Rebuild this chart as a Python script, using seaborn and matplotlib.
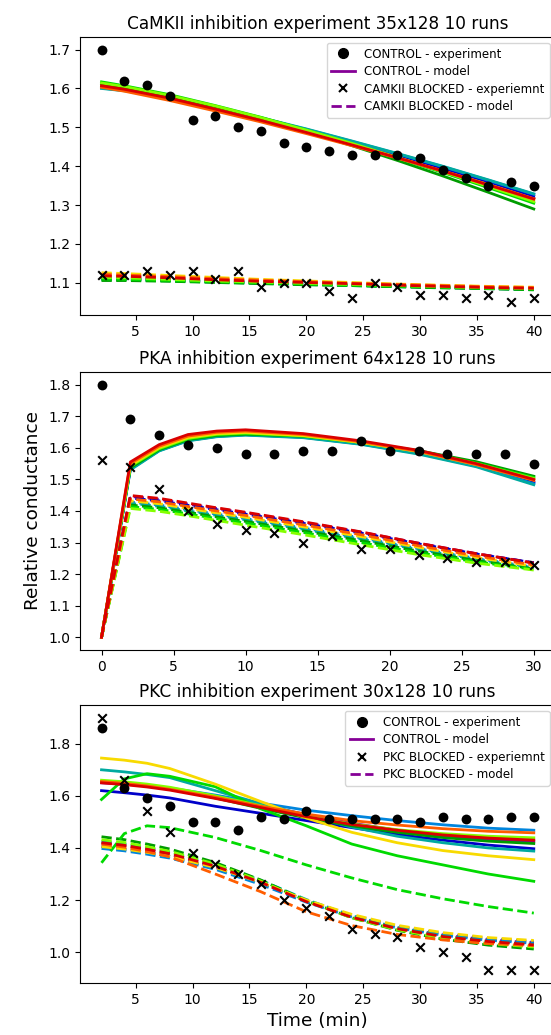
import pandas as pd
import numpy as np
import matplotlib
matplotlib.use("Agg")
import matplotlib.pyplot as plt
from matplotlib.lines import Line2D
import seaborn as sns

plt.rcParams['xtick.labelsize'] = 10
plt.rcParams['ytick.labelsize'] = 10
plt.rcParams['axes.titlesize'] = 12.2
plt.rcParams['axes.labelsize'] = 13.3

RUN_COLORS = sns.color_palette("nipy_spectral", 10)  # purple ... red

# ---------------- CaMKII panel ----------------
camkii_exp_t = [2, 4, 6, 8, 10, 12, 14, 16, 18, 20, 22, 24, 26, 28, 30, 32, 34, 36, 38, 40]
camkii_ctrl_exp = [1.70, 1.62, 1.61, 1.58, 1.52, 1.53, 1.50, 1.49, 1.46, 1.45,
                   1.44, 1.43, 1.43, 1.43, 1.42, 1.39, 1.37, 1.35, 1.36, 1.35]
camkii_block_exp = [1.12, 1.12, 1.13, 1.12, 1.13, 1.11, 1.13, 1.09, 1.10, 1.10,
                    1.08, 1.06, 1.10, 1.09, 1.07, 1.07, 1.06, 1.07, 1.05, 1.06]
camkii_model_t = [2, 4, 8, 12, 16, 20, 24, 28, 32, 36, 40]
camkii_ctrl_model = [
    [1.606, 1.598, 1.575, 1.549, 1.520, 1.490, 1.458, 1.425, 1.391, 1.355, 1.318],
    [1.604, 1.597, 1.576, 1.551, 1.523, 1.493, 1.461, 1.428, 1.395, 1.360, 1.324],
    [1.601, 1.595, 1.575, 1.551, 1.524, 1.495, 1.464, 1.432, 1.399, 1.364, 1.328],
    [1.600, 1.594, 1.575, 1.552, 1.525, 1.496, 1.465, 1.433, 1.400, 1.365, 1.329],
    [1.612, 1.603, 1.580, 1.553, 1.522, 1.489, 1.453, 1.415, 1.375, 1.333, 1.290],
    [1.617, 1.607, 1.584, 1.556, 1.526, 1.493, 1.458, 1.421, 1.384, 1.345, 1.305],
    [1.614, 1.605, 1.582, 1.555, 1.525, 1.493, 1.459, 1.423, 1.386, 1.348, 1.309],
    [1.605, 1.596, 1.573, 1.546, 1.517, 1.487, 1.455, 1.422, 1.388, 1.353, 1.316],
    [1.603, 1.593, 1.569, 1.542, 1.514, 1.484, 1.453, 1.421, 1.387, 1.352, 1.315],
    [1.607, 1.598, 1.575, 1.547, 1.518, 1.487, 1.455, 1.422, 1.388, 1.352, 1.316],
]
camkii_block_model = [
    [1.116, 1.115, 1.111, 1.107, 1.103, 1.099, 1.096, 1.093, 1.090, 1.087, 1.085],
    [1.112, 1.111, 1.108, 1.104, 1.101, 1.098, 1.095, 1.092, 1.089, 1.087, 1.084],
    [1.110, 1.109, 1.106, 1.103, 1.100, 1.097, 1.094, 1.091, 1.088, 1.086, 1.083],
    [1.108, 1.108, 1.105, 1.102, 1.099, 1.096, 1.093, 1.090, 1.088, 1.085, 1.083],
    [1.106, 1.106, 1.104, 1.101, 1.098, 1.095, 1.093, 1.090, 1.087, 1.085, 1.082],
    [1.110, 1.109, 1.106, 1.103, 1.100, 1.097, 1.094, 1.091, 1.089, 1.086, 1.084],
    [1.114, 1.113, 1.109, 1.105, 1.102, 1.099, 1.096, 1.093, 1.090, 1.087, 1.085],
    [1.126, 1.124, 1.119, 1.114, 1.109, 1.105, 1.101, 1.097, 1.094, 1.091, 1.089],
    [1.122, 1.120, 1.116, 1.111, 1.107, 1.103, 1.099, 1.096, 1.093, 1.090, 1.088],
    [1.118, 1.117, 1.113, 1.108, 1.104, 1.101, 1.098, 1.094, 1.091, 1.088, 1.086],
]

# ---------------- PKA panel ----------------
pka_exp_t = [0, 2, 4, 6, 8, 10, 12, 14, 16, 18, 20, 22, 24, 26, 28, 30]
pka_ctrl_exp = [1.80, 1.69, 1.64, 1.61, 1.60, 1.58, 1.58, 1.59,
                1.59, 1.62, 1.59, 1.59, 1.58, 1.58, 1.58, 1.55]
pka_block_exp = [1.56, 1.54, 1.47, 1.40, 1.36, 1.34, 1.33, 1.30,
                 1.32, 1.28, 1.28, 1.26, 1.25, 1.24, 1.24, 1.23]
pka_model_t = [0, 2, 4, 6, 8, 10, 14, 18, 22, 26, 30]
pka_ctrl_model = [
    [1.0, 1.537, 1.595, 1.627, 1.640, 1.644, 1.636, 1.615, 1.585, 1.546, 1.492],
    [1.0, 1.534, 1.592, 1.624, 1.637, 1.642, 1.634, 1.613, 1.583, 1.544, 1.489],
    [1.0, 1.532, 1.591, 1.623, 1.636, 1.641, 1.633, 1.612, 1.582, 1.542, 1.486],
    [1.0, 1.530, 1.590, 1.622, 1.635, 1.640, 1.632, 1.611, 1.580, 1.540, 1.483],
    [1.0, 1.536, 1.594, 1.626, 1.639, 1.643, 1.637, 1.618, 1.591, 1.556, 1.510],
    [1.0, 1.540, 1.596, 1.628, 1.641, 1.645, 1.637, 1.617, 1.590, 1.552, 1.506],
    [1.0, 1.542, 1.598, 1.630, 1.643, 1.647, 1.638, 1.617, 1.589, 1.550, 1.503],
    [1.0, 1.545, 1.601, 1.633, 1.645, 1.649, 1.639, 1.617, 1.588, 1.547, 1.498],
    [1.0, 1.550, 1.605, 1.637, 1.649, 1.653, 1.642, 1.619, 1.589, 1.547, 1.497],
    [1.0, 1.555, 1.610, 1.642, 1.653, 1.657, 1.645, 1.622, 1.592, 1.550, 1.500],
]
pka_block_model = [
    [1.0, 1.446, 1.437, 1.422, 1.408, 1.394, 1.364, 1.333, 1.298, 1.265, 1.236],
    [1.0, 1.441, 1.432, 1.418, 1.404, 1.390, 1.361, 1.330, 1.296, 1.264, 1.236],
    [1.0, 1.428, 1.419, 1.404, 1.390, 1.376, 1.346, 1.315, 1.281, 1.250, 1.222],
    [1.0, 1.424, 1.415, 1.400, 1.386, 1.372, 1.342, 1.311, 1.278, 1.247, 1.220],
    [1.0, 1.419, 1.410, 1.396, 1.381, 1.367, 1.337, 1.306, 1.273, 1.243, 1.217],
    [1.0, 1.414, 1.405, 1.391, 1.376, 1.362, 1.332, 1.300, 1.268, 1.239, 1.215],
    [1.0, 1.408, 1.399, 1.385, 1.370, 1.355, 1.325, 1.293, 1.262, 1.235, 1.213],
    [1.0, 1.432, 1.423, 1.408, 1.394, 1.380, 1.350, 1.319, 1.285, 1.253, 1.225],
    [1.0, 1.438, 1.429, 1.414, 1.400, 1.386, 1.356, 1.325, 1.290, 1.258, 1.229],
    [1.0, 1.449, 1.440, 1.425, 1.410, 1.396, 1.366, 1.334, 1.298, 1.265, 1.235],
]

# ---------------- PKC panel ----------------
pkc_exp_t = [2, 4, 6, 8, 10, 12, 14, 16, 18, 20, 22, 24, 26, 28, 30, 32, 34, 36, 38, 40]
pkc_ctrl_exp = [1.86, 1.63, 1.59, 1.56, 1.50, 1.50, 1.47, 1.52, 1.51, 1.54,
                1.51, 1.51, 1.51, 1.51, 1.50, 1.52, 1.51, 1.51, 1.52, 1.52]
pkc_block_exp = [1.90, 1.66, 1.54, 1.46, 1.38, 1.34, 1.30, 1.26, 1.20, 1.17,
                 1.14, 1.09, 1.07, 1.06, 1.02, 1.00, 0.98, 0.93, 0.93, 0.93]
pkc_model_t = [2, 4, 6, 8, 12, 16, 20, 24, 28, 32, 36, 40]
pkc_ctrl_model = [
    [1.650, 1.645, 1.638, 1.628, 1.600, 1.565, 1.528, 1.495, 1.468, 1.447, 1.433, 1.425],
    [1.620, 1.612, 1.603, 1.592, 1.560, 1.533, 1.505, 1.478, 1.452, 1.430, 1.411, 1.397],
    [1.655, 1.648, 1.640, 1.630, 1.603, 1.572, 1.545, 1.524, 1.505, 1.489, 1.476, 1.468],
    [1.700, 1.692, 1.682, 1.670, 1.620, 1.570, 1.525, 1.480, 1.445, 1.420, 1.400, 1.388],
    [1.655, 1.648, 1.638, 1.627, 1.592, 1.552, 1.515, 1.485, 1.460, 1.440, 1.426, 1.417],
    [1.586, 1.665, 1.685, 1.675, 1.635, 1.550, 1.485, 1.415, 1.370, 1.335, 1.300, 1.272],
    [1.660, 1.654, 1.645, 1.633, 1.600, 1.562, 1.522, 1.492, 1.470, 1.455, 1.445, 1.439],
    [1.745, 1.737, 1.725, 1.705, 1.645, 1.578, 1.515, 1.460, 1.420, 1.390, 1.370, 1.355],
    [1.655, 1.648, 1.638, 1.625, 1.595, 1.560, 1.530, 1.505, 1.488, 1.474, 1.464, 1.458],
    [1.650, 1.643, 1.634, 1.622, 1.590, 1.555, 1.520, 1.490, 1.468, 1.450, 1.438, 1.430],
]
pkc_block_model = [
    [1.418, 1.408, 1.393, 1.376, 1.328, 1.268, 1.196, 1.137, 1.094, 1.066, 1.047, 1.036],
    [1.405, 1.396, 1.383, 1.368, 1.324, 1.266, 1.198, 1.141, 1.099, 1.071, 1.052, 1.040],
    [1.398, 1.389, 1.376, 1.361, 1.318, 1.260, 1.192, 1.135, 1.093, 1.065, 1.046, 1.034],
    [1.425, 1.415, 1.400, 1.383, 1.336, 1.276, 1.202, 1.140, 1.094, 1.063, 1.042, 1.030],
    [1.443, 1.432, 1.415, 1.396, 1.344, 1.277, 1.198, 1.132, 1.084, 1.050, 1.027, 1.012],
    [1.343, 1.455, 1.485, 1.478, 1.440, 1.390, 1.335, 1.285, 1.240, 1.205, 1.175, 1.150],
    [1.432, 1.421, 1.405, 1.387, 1.338, 1.273, 1.196, 1.132, 1.086, 1.054, 1.033, 1.020],
    [1.405, 1.396, 1.383, 1.368, 1.325, 1.268, 1.200, 1.145, 1.103, 1.075, 1.056, 1.045],
    [1.415, 1.403, 1.386, 1.366, 1.300, 1.232, 1.155, 1.102, 1.068, 1.047, 1.033, 1.025],
    [1.420, 1.410, 1.395, 1.378, 1.330, 1.268, 1.194, 1.134, 1.090, 1.060, 1.041, 1.028],
]


def model_frame(times, ctrl, blocked):
    rows = []
    for run in range(len(ctrl)):
        for t, vc, vb in zip(times, ctrl[run], blocked[run]):
            rows.append((t, vc, f"run {run}", "control"))
            rows.append((t, vb, f"run {run}", "blocked"))
    return pd.DataFrame(rows, columns=["time", "value", "run", "cond"])


def draw_panel(ax, title, exp_t, ctrl_exp, block_exp, model_t, ctrl_model, block_model,
               block_name=None):
    df = model_frame(model_t, ctrl_model, block_model)
    runs = [f"run {i}" for i in range(len(ctrl_model))]
    sns.lineplot(data=df, x="time", y="value", hue="run", style="cond",
                 hue_order=runs, style_order=["control", "blocked"],
                 palette=RUN_COLORS, dashes={"control": "", "blocked": (3.7, 1.6)},
                 lw=2, legend=False, estimator=None, sort=False, ax=ax)
    sns.scatterplot(x=exp_t, y=ctrl_exp, marker="o", color="k", s=50,
                    linewidth=0, zorder=3, ax=ax)
    sns.scatterplot(x=exp_t, y=block_exp, marker="x", color="k", s=38,
                    linewidth=1.5, zorder=3, ax=ax)
    ax.set_title(title)
    ax.set_xlabel("")
    ax.set_ylabel("")
    if block_name:
        handles = [
            Line2D([], [], marker="o", color="k", ls="none", ms=7),
            Line2D([], [], color=RUN_COLORS[0], lw=2),
            Line2D([], [], marker="x", color="k", ls="none", ms=6, mew=1.5),
            Line2D([], [], color=RUN_COLORS[0], lw=2, ls="--"),
        ]
        labels = ["CONTROL - experiment", "CONTROL - model",
                  f"{block_name} BLOCKED - experiemnt", f"{block_name} BLOCKED - model"]
        ax.legend(handles, labels, loc="upper right", fontsize=8.5,
                  handlelength=2.0, labelspacing=0.38)


fig = plt.figure(figsize=(5.51, 10.35), dpi=100)
ax1 = fig.add_axes([0.145, 0.6957, 0.863, 0.2686])
ax2 = fig.add_axes([0.145, 0.3720, 0.863, 0.2686])
ax3 = fig.add_axes([0.145, 0.0502, 0.863, 0.2686])

draw_panel(ax1, "CaMKII inhibition experiment 35x128 10 runs",
           camkii_exp_t, camkii_ctrl_exp, camkii_block_exp,
           camkii_model_t, camkii_ctrl_model, camkii_block_model, "CAMKII")
draw_panel(ax2, "PKA inhibition experiment 64x128 10 runs",
           pka_exp_t, pka_ctrl_exp, pka_block_exp,
           pka_model_t, pka_ctrl_model, pka_block_model)
draw_panel(ax3, "PKC inhibition experiment 30x128 10 runs",
           pkc_exp_t, pkc_ctrl_exp, pkc_block_exp,
           pkc_model_t, pkc_ctrl_model, pkc_block_model, "PKC")

ax2.set_ylabel("Relative conductance")
ax3.set_xlabel("Time (min)")

fig.savefig("out.png", dpi=100)
